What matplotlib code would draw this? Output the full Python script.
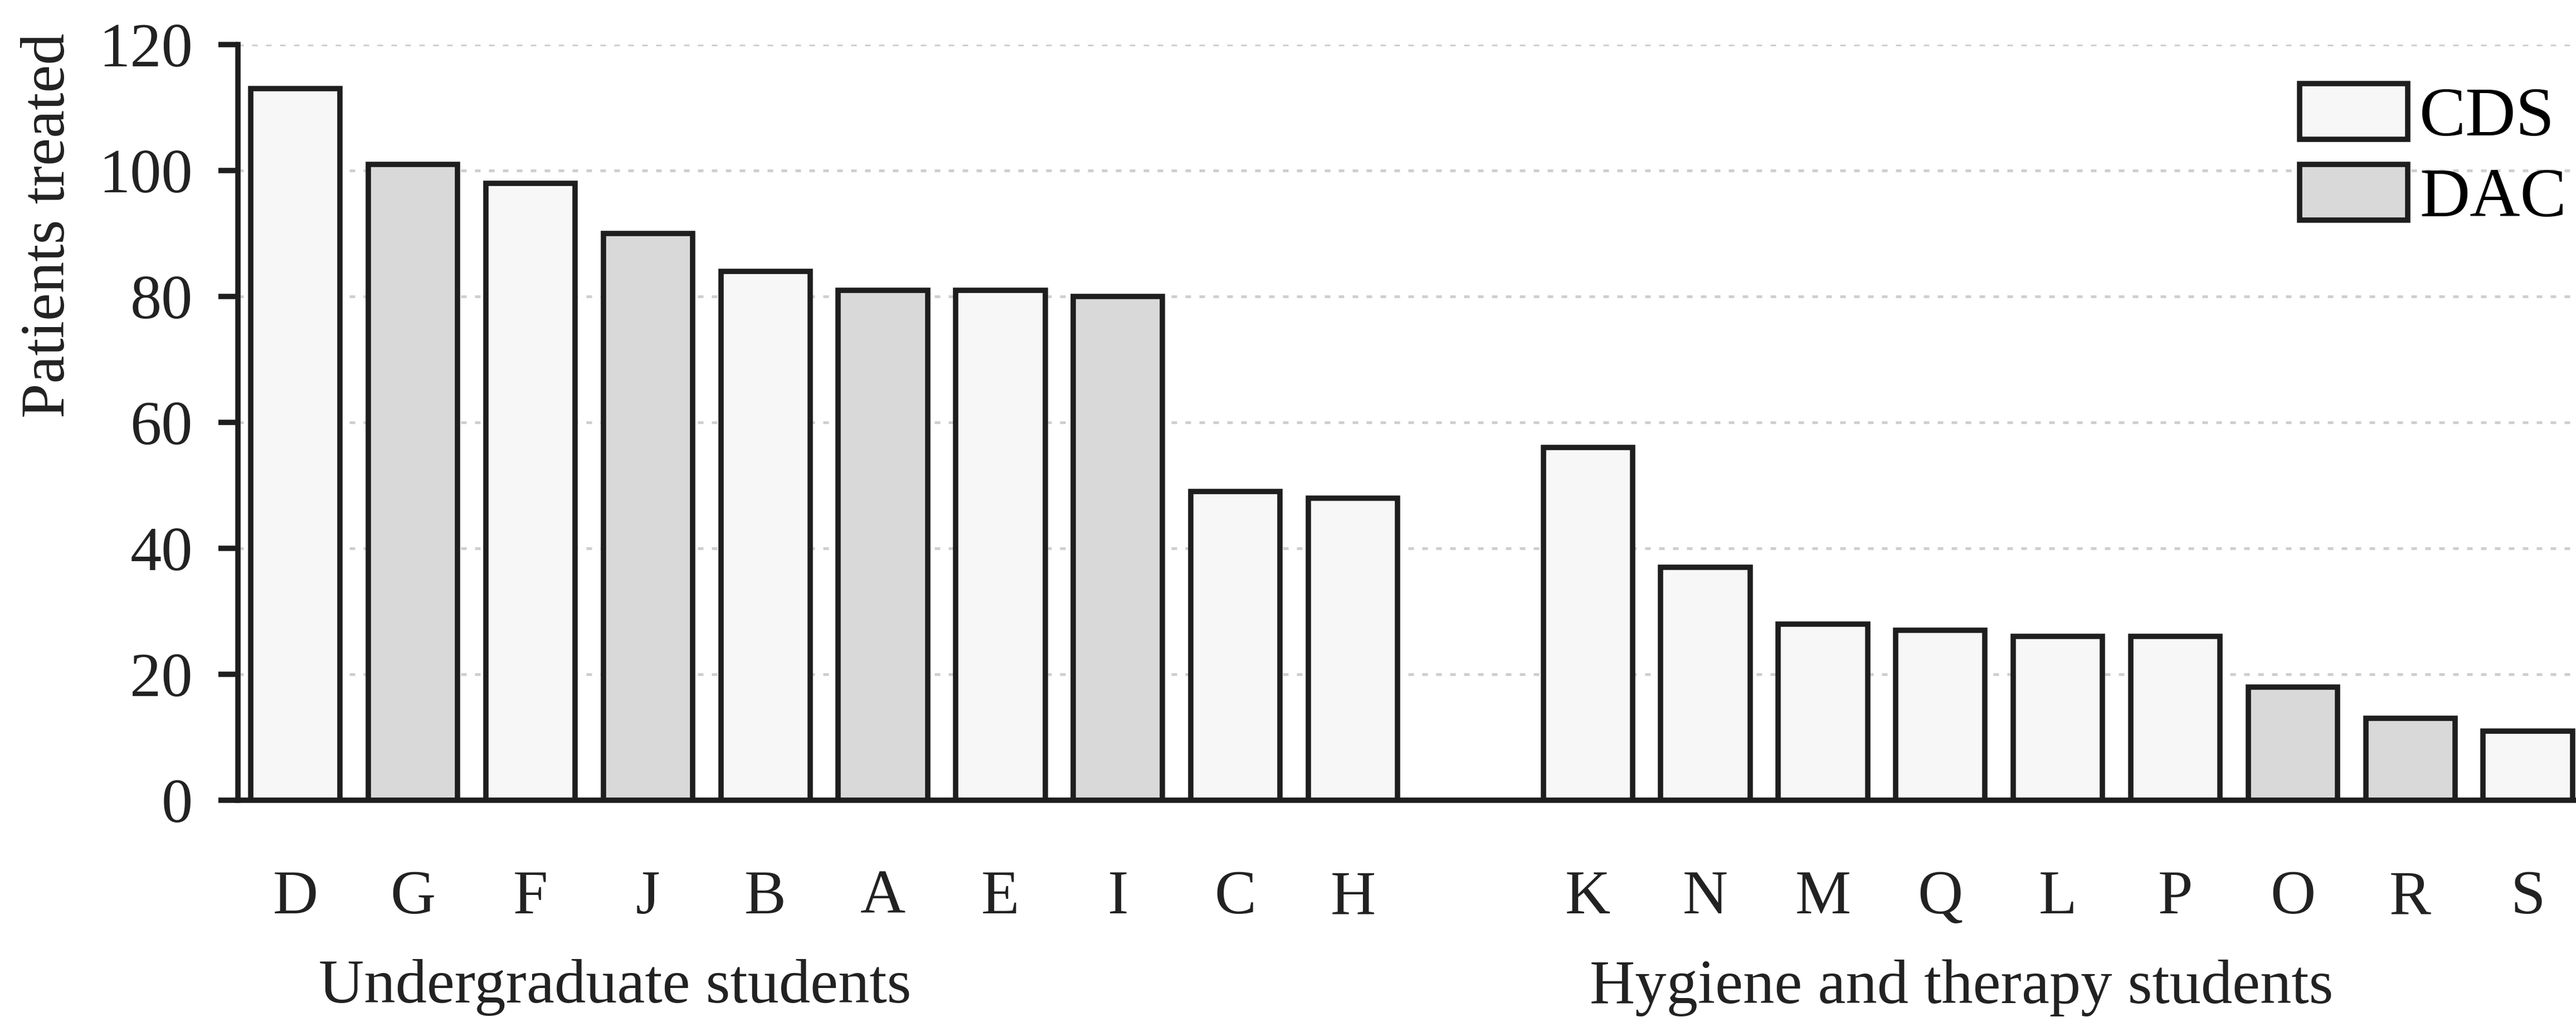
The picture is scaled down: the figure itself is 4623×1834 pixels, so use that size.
import matplotlib
matplotlib.use("Agg")
import matplotlib.pyplot as plt
from matplotlib.patches import Patch
import matplotlib.transforms as mtransforms

plt.rcParams['font.family'] = ['Liberation Serif', 'DejaVu Serif']

# Data
undergrad_labels = ["D", "G", "F", "J", "B", "A", "E", "I", "C", "H"]
undergrad_values = [113, 101, 98, 90, 84, 81, 81, 80, 49, 48]
undergrad_groups = ["CDS", "DAC", "CDS", "DAC", "CDS", "DAC", "CDS", "DAC", "CDS", "CDS"]

hygiene_labels = ["K", "N", "M", "Q", "L", "P", "O", "R", "S"]
hygiene_values = [56, 37, 28, 27, 26, 26, 18, 13, 11]
hygiene_groups = ["CDS", "CDS", "CDS", "CDS", "CDS", "CDS", "DAC", "DAC", "CDS"]

yticks = [0, 20, 40, 60, 80, 100, 120]
group_titles = ["Undergraduate students", "Hygiene and therapy students"]

colors = {"CDS": "#f7f7f7", "DAC": "#d9d9d9"}
edge = "#1e1e1e"
txt = "#222222"
FS = 27
LFS = 30

labels = undergrad_labels + hygiene_labels
values = undergrad_values + hygiene_values
groups = undergrad_groups + hygiene_groups
positions = list(range(len(undergrad_labels))) + \
    [len(undergrad_labels) + 1 + i for i in range(len(hygiene_labels))]

W, H = 4623, 1834
dpi = 300
fig = plt.figure(figsize=(W / dpi, H / dpi), dpi=dpi)
ax = fig.add_axes([427 / W, 1 - 1436 / H, 1 - 427 / W, (1436 - 80) / H])

ax.bar(positions, values, width=0.76,
       color=[colors[g] for g in groups], edgecolor=edge, linewidth=2.3, zorder=3)

ax.set_ylim(0, 120)
ax.set_xlim(-0.49, 19.41)
ax.set_yticks(yticks)
ax.set_xticks(positions)
ax.set_xticklabels(labels)

ax.yaxis.grid(True, linestyle=(0, (2, 3)), color="#cfcfcf", linewidth=1.2, zorder=0)
ax.set_axisbelow(True)

for s in ["top", "right"]:
    ax.spines[s].set_visible(False)
for s in ["left", "bottom"]:
    ax.spines[s].set_linewidth(2.3)
    ax.spines[s].set_color(edge)

ax.tick_params(axis='y', direction='out', length=8.5, width=2.3, color=edge,
               labelsize=FS, pad=11, labelcolor=txt)
ax.tick_params(axis='x', length=0, labelsize=FS, pad=30, labelcolor=txt)

trans = mtransforms.blended_transform_factory(ax.transData, ax.transAxes)
ax.text(2.72, -0.248, group_titles[0], transform=trans, ha='center', va='center',
        fontsize=FS, color=txt)
ax.text(14.18, -0.248, group_titles[1], transform=trans, ha='center', va='center',
        fontsize=FS, color=txt)

fig.text(88 / W, 1 - 405 / H, "Patients treated", rotation=90, ha='center', va='center',
         fontsize=FS, color=txt)

handles = [Patch(facecolor=colors["CDS"], edgecolor=edge, linewidth=2.3, label="CDS"),
           Patch(facecolor=colors["DAC"], edgecolor=edge, linewidth=2.3, label="DAC")]
fig.legend(handles=handles, loc='upper left', bbox_to_anchor=(4127 / W, 1 - 150 / H),
           frameon=False, fontsize=LFS, handlelength=1.55, handleheight=0.85,
           handletextpad=0.17, labelspacing=0.2, borderpad=0, borderaxespad=0)

fig.savefig("out.png", dpi=dpi, facecolor="white")
